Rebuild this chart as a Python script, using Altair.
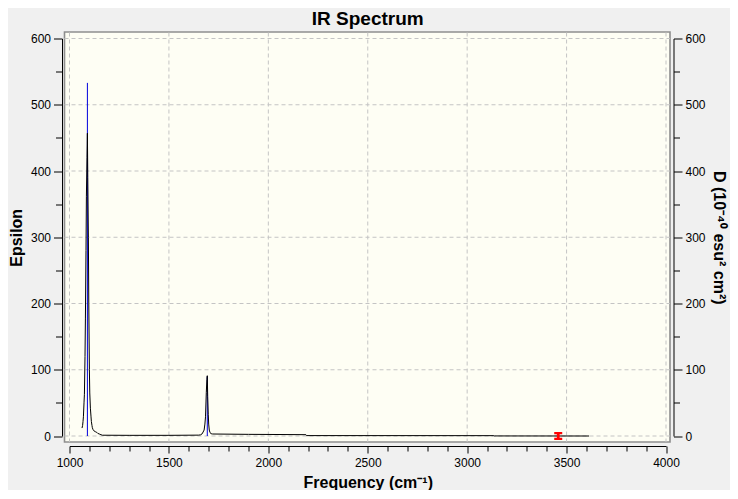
import altair as alt
import pandas as pd

# ---- data ----
freq = [1063, 1066, 1068, 1070, 1073, 1075, 1078, 1080, 1083, 1085, 1088, 1090,
        1092, 1095, 1097, 1100, 1102, 1105, 1108, 1110, 1113, 1115, 1118, 1122,
        1130, 1137, 1142, 1150, 1158, 1165, 1300, 1500, 1650, 1660, 1666, 1672,
        1677, 1681, 1684, 1688, 1691, 1693, 1695, 1698, 1700, 1703, 1707, 1712,
        1720, 1900, 2189, 2192, 3134, 3137, 3613]
epsilon = [12, 16, 22, 29, 50, 63, 120, 178, 280, 362, 420, 457,
           390, 300, 200, 100, 65, 42, 30, 22, 16, 12.5, 10, 8,
           6.5, 5.5, 4, 3, 2, 1.2, 1, 1, 1.3, 1.8, 3, 6,
           9, 18, 29, 66, 85, 91, 60, 32, 18, 9, 5, 3.5,
           3, 2.5, 2, 0.6, 0.5, 0.1, 0]

stick_freq = [1090, 1693]
stick_int = [533, 90]

marker_freq = [3458]
marker_val = [0]

x_major = [1000, 1500, 2000, 2500, 3000, 3500, 4000]
x_ticks = list(range(1000, 4001, 100))
y_major = [0, 100, 200, 300, 400, 500, 600]
y_ticks = list(range(0, 601, 50))

# ---- layout ----
W, H = 596.5, 397.5
FONT = "Liberation Sans"
FRAME_FILL = "#fefef4"
GRID = "#c4c4c4"

spec = pd.DataFrame({"freq": freq, "eps": epsilon})
sticks = pd.DataFrame({"freq": stick_freq, "int": stick_int, "zero": [0] * len(stick_freq)})
marker = pd.DataFrame({"freq": marker_freq, "val": marker_val})
xg = pd.DataFrame({"v": x_major})
yg = pd.DataFrame({"v": y_major})

xs = alt.Scale(domain=[1000, 4000], nice=False, zero=False)
ys = alt.Scale(domain=[0, 600], nice=False, zero=False)

x_axis = alt.Axis(
    orient="bottom", offset=10, values=x_ticks, format="d",
    labelExpr="datum.value % 500 === 0 ? datum.label : ''",
    tickSize={"condition": {"test": "datum.value % 500 === 0", "value": 7}, "value": 5},
    title="Frequency (cm⁻¹)", grid=False, labelOverlap=False, labelFlush=False,
    labelPadding=4, titlePadding=6,
)
y_left = alt.Axis(
    orient="left", offset=7.5, values=y_ticks, format="d",
    labelExpr="datum.value % 100 === 0 ? datum.label : ''",
    tickSize={"condition": {"test": "datum.value % 100 === 0", "value": 8.5}, "value": 6.5},
    title="Epsilon", grid=False, labelOverlap=False, labelFlush=False, titlePadding=6,
)
y_right = alt.Axis(
    orient="right", offset=7.5, values=y_ticks, format="d",
    labelExpr="datum.value % 100 === 0 ? datum.label : ''",
    tickSize={"condition": {"test": "datum.value % 100 === 0", "value": 8.5}, "value": 6},
    title="D (10⁻⁴⁰ esu² cm²)", grid=False, labelOverlap=False, labelFlush=False,
    titlePadding=5, titleFontSize=16,
)


def X(field):
    return alt.X(field, scale=xs, axis=x_axis)


frame = alt.Chart(pd.DataFrame({"a": [0]})).mark_rect(
    fill=FRAME_FILL, stroke="#8e8e8e", strokeWidth=1.6
).encode(x=alt.value(-5), x2=alt.value(W + 4), y=alt.value(-6.5), y2=alt.value(H + 6))

vgrid = alt.Chart(xg).mark_rule(color=GRID, strokeDash=[4, 3], strokeWidth=1).encode(
    x=X("v:Q"), y=alt.value(-6), y2=alt.value(H + 6)
)
hgrid = alt.Chart(yg).mark_rule(color=GRID, strokeDash=[4, 3], strokeWidth=1).encode(
    y=alt.Y("v:Q", scale=ys, axis=None), x=alt.value(-5), x2=alt.value(W + 4)
)

stick_layer = alt.Chart(sticks).mark_rule(color="#0000dd", strokeWidth=1).encode(
    x=X("freq:Q"),
    y=alt.Y("zero:Q", scale=ys, axis=None),
    y2="int:Q",
)

line = alt.Chart(spec).mark_line(color="black", strokeWidth=1).encode(
    x=X("freq:Q"),
    y=alt.Y("eps:Q", scale=ys, axis=y_left),
)

right = alt.Chart(spec).mark_line(opacity=0).encode(
    x=X("freq:Q"),
    y=alt.Y("eps:Q", scale=ys, axis=y_right),
)

marker_layer = alt.Chart(marker).mark_point(
    shape="M-1,-1H1V-0.45H0.35V0.45H1V1H-1V0.45H-0.35V-0.45H-1Z",
    filled=True, color="#ff0000", opacity=1, size=64,
).encode(
    x=X("freq:Q"),
    y=alt.Y("val:Q", scale=ys, axis=None),
)

chart = alt.layer(
    frame, vgrid, hgrid, stick_layer, line, marker_layer, right
).resolve_scale(y="independent").properties(
    width=W, height=H,
    title=alt.TitleParams("IR Spectrum", font=FONT, fontSize=19, fontWeight="bold",
                          anchor="middle", color="black", offset=2),
    background="#f0f0f0",
    padding={"left": 61.5, "top": 30.5, "right": 64, "bottom": 54},
    autosize=alt.AutoSizeParams(type="none"),
).configure_view(stroke=None).configure_axis(
    labelFont=FONT, labelFontSize=12, labelColor="black", labelPadding=3,
    titleFont=FONT, titleFontSize=16, titleFontWeight="bold", titleColor="black",
    domainColor="black", domainWidth=1, tickColor="black", tickWidth=1,
)

chart.save("out.html", embed_options={"renderer": "svg", "actions": False})
